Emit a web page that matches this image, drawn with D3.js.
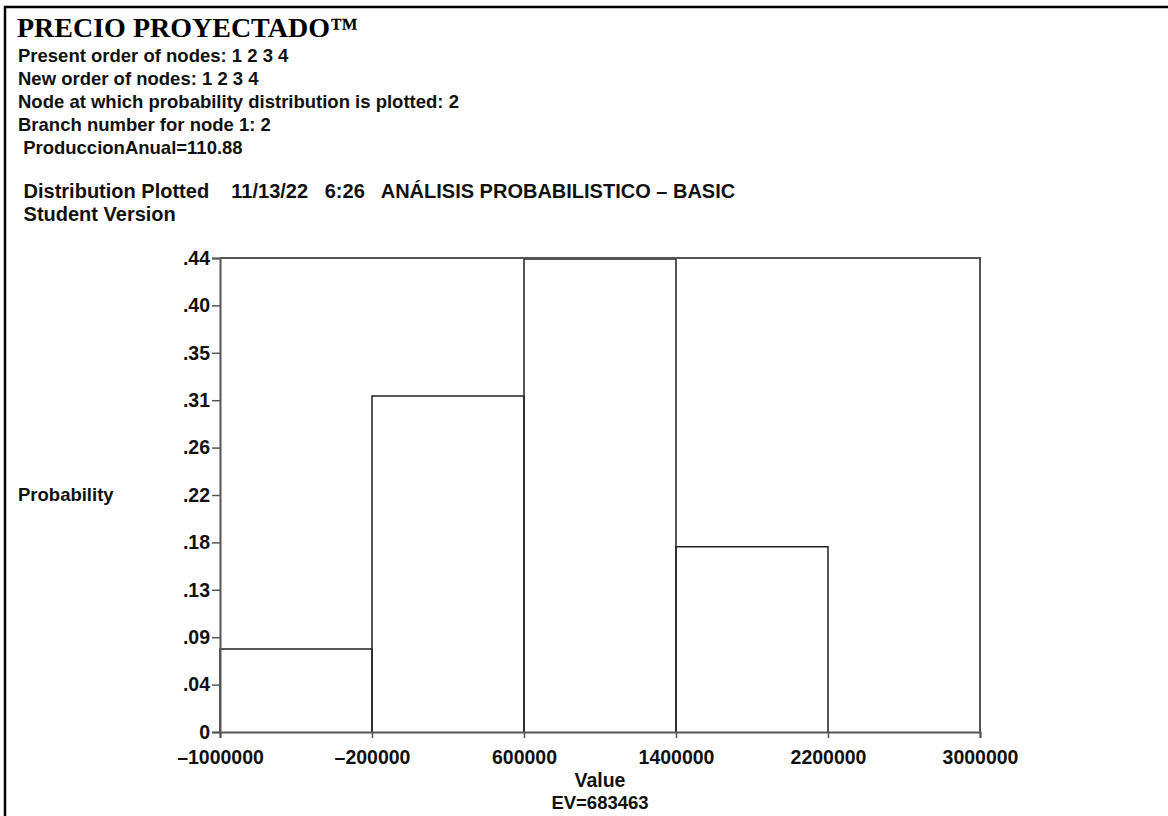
<!DOCTYPE html>
<html>
<head>
<meta charset="utf-8">
<script src="https://cdn.jsdelivr.net/npm/d3@7"></script>
<style>
  html, body { margin: 0; padding: 0; background: #fff; }
  svg { display: block; }
  text { font-family: "Liberation Sans", Arial, sans-serif; font-weight: bold; fill: #111; }
</style>
</head>
<body>
<script>
// ---- data ----
const binStarts = [-1000000, -200000, 600000, 1400000];
const binEnds = [-200000, 600000, 1400000, 2200000];
const probabilities = [0.077, 0.312, 0.439, 0.172];
const xTickValues = [-1000000, -200000, 600000, 1400000, 2200000, 3000000];
const yTickValues = [0, 0.044, 0.088, 0.132, 0.176, 0.22, 0.264, 0.308, 0.352, 0.396, 0.44];
const yTickLabels = ["0", ".04", ".09", ".13", ".18", ".22", ".26", ".31", ".35", ".40", ".44"];
const headerLines = [
  "Present order of nodes: 1 2 3 4",
  "New order of nodes: 1 2 3 4",
  "Node at which probability distribution is plotted: 2",
  "Branch number for node 1: 2",
  " ProduccionAnual=110.88"
];
const subtitleLines = [
  " Distribution Plotted    11/13/22   6:26   AN\u00C1LISIS PROBABILISTICO \u2013 BASIC",
  " Student Version"
];
const titleText = "PRECIO PROYECTADO\u2122";
const xAxisTitle = "Value";
const yAxisTitle = "Probability";
const evText = "EV=683463";

// ---- layout ----
const W = 1168, H = 816;
const svg = d3.select("body").append("svg").attr("width", W).attr("height", H);

// page border (left, top)
svg.append("line").attr("x1", 4).attr("y1", 7).attr("x2", W).attr("y2", 7)
  .attr("stroke", "#000").attr("stroke-width", 2.5);
svg.append("line").attr("x1", 5).attr("y1", 6).attr("x2", 5).attr("y2", H)
  .attr("stroke", "#000").attr("stroke-width", 2.5);

svg.append("text").attr("x", 17).attr("y", 37)
  .style("font-family", "'Liberation Serif', 'Times New Roman', serif")
  .style("font-size", "28px").style("fill", "#000")
  .text(titleText);

headerLines.forEach((t, i) => {
  svg.append("text").attr("x", 18).attr("y", 62 + i * 23)
    .style("font-size", "18.5px").style("white-space", "pre").attr("xml:space", "preserve")
    .text(t);
});
subtitleLines.forEach((t, i) => {
  svg.append("text").attr("x", 18).attr("y", 198 + i * 23)
    .style("font-size", "20px").style("white-space", "pre").attr("xml:space", "preserve")
    .text(t);
});

const x = d3.scaleLinear().domain([-1000000, 3000000]).range([220, 980]);
const y = d3.scaleLinear().domain([0, 0.44]).range([732, 258]);

const frameColor = "#555";

// bars
const bins = binStarts.map((s, i) => ({ s, e: binEnds[i], p: probabilities[i] }));
svg.append("g").selectAll("path").data(bins).join("path")
  .attr("d", d => `M${x(d.s)},${y(0)}V${y(d.p)}H${x(d.e)}V${y(0)}`)
  .attr("fill", "none").attr("stroke", "#222").attr("stroke-width", 1.5);

// frame top and right
svg.append("path")
  .attr("d", `M${x(-1000000)},${y(0.44)}H${x(3000000)}V${y(0)}`)
  .attr("fill", "none").attr("stroke", frameColor).attr("stroke-width", 2);

// axes
const yAxis = d3.axisLeft(y).tickValues(yTickValues)
  .tickFormat((d, i) => yTickLabels[i]).tickSize(8).tickPadding(2);
const gy = svg.append("g").attr("transform", `translate(${x(-1000000)},0)`).call(yAxis);
gy.select(".domain").attr("stroke", frameColor).attr("stroke-width", 2);
gy.selectAll(".tick line").attr("stroke", frameColor).attr("stroke-width", 1.5);
gy.selectAll(".tick text").style("font-size", "19.5px").style("font-family", "'Liberation Sans', Arial, sans-serif").attr("fill", "#111");

const xAxis = d3.axisBottom(x).tickValues(xTickValues)
  .tickFormat(d => d3.format("d")(d).replace("\u2212", "\u2013")).tickSize(6).tickPadding(12);
const gx = svg.append("g").attr("transform", `translate(0,${y(0)})`).call(xAxis);
gx.select(".domain").attr("stroke", frameColor).attr("stroke-width", 2);
gx.selectAll(".tick line").attr("stroke", frameColor).attr("stroke-width", 1.5);
gx.selectAll(".tick text").style("font-size", "19.5px").style("font-family", "'Liberation Sans', Arial, sans-serif").attr("fill", "#111");

svg.append("text").attr("x", 18).attr("y", 501).style("font-size", "18.5px").text(yAxisTitle);
svg.append("text").attr("x", 600).attr("y", 787).attr("text-anchor", "middle")
  .style("font-size", "19.5px").text(xAxisTitle);
svg.append("text").attr("x", 600).attr("y", 809).attr("text-anchor", "middle")
  .style("font-size", "18.5px").text(evText);
</script>
</body>
</html>
